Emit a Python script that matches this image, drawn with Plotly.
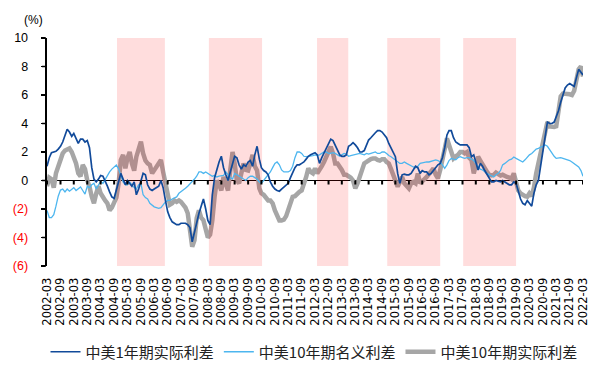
import pandas as pd
import plotly.graph_objects as go

# ---------------- data ----------------
START_MONTH = "2002-03-01"

# 中美1年期实际利差 (monthly, from 2002-03)
REAL_1Y = [
    1.0, 1.6, 1.95, 2.0, 2.05, 2.2, 2.4, 2.7, 3.2, 3.6, 3.4, 3.1,
    3.3, 3.0, 2.6, 2.9, 2.9, 2.7, 2.8, 2.3, 0.9, 0.1, -0.1, 0.1,
    0.35, 0.3, 0.0, -0.4, -0.8, -1.15, -1.25, -0.7, -0.2, 0.5, 0.1, -0.3,
    0.0, -0.2, -0.4, -0.1, -1.0, -0.6, 0.0, 0.5, 0.4, -0.3, -0.6, -0.7,
    -0.6, -0.5, -0.4, 0.0, -0.5, -1.4, -2.2, -2.6, -2.9, -3.0, -3.1, -3.1,
    -3.0, -3.0, -3.0, -3.1, -3.3, -4.3, -3.6, -3.0, -2.3, -1.8, -1.3, -2.0,
    -2.8, -3.1, -1.0, 0.2, 0.8, 1.3, 1.7, 0.9, 0.4, 0.0, 0.6, 1.2,
    1.7, 1.6, 1.1, 0.8, 1.1, 1.0, 1.3, 1.4, 1.0, 1.8, 2.4, 1.5,
    0.9, 0.7, 0.6, 0.4, -0.1, -0.4, -0.6, -0.7, -0.75, -0.6, -0.45, -0.35,
    -0.2, 0.2, 0.6, 0.9, 1.1, 1.1, 1.2, 1.3, 1.5, 1.7, 1.8, 1.9,
    1.95, 1.8, 1.2, 1.6, 1.9, 2.3, 2.6, 2.9, 2.8, 2.5, 2.2, 1.8,
    1.7, 1.7, 1.8, 2.4, 2.5, 2.65, 2.5, 2.3, 2.0, 2.0, 2.1, 2.5,
    2.84, 3.0, 3.2, 3.35, 3.5, 3.5, 3.4, 3.2, 3.0, 2.6, 2.3, 1.9,
    1.67, 0.5, -0.2, 0.4, 0.45, 0.4, 0.4, 0.5, 0.74, 1.0, 0.9, 0.5,
    0.7, 0.6, 0.6, 0.4, 0.5, 0.7, 0.9, 1.1, 1.2, 1.6, 2.3, 3.2,
    3.5, 3.5, 3.0, 2.7, 2.6, 2.5, 2.5, 2.5, 2.5, 2.3, 1.67, 1.8,
    1.2, 0.74, 1.2, 1.0, 0.7, 0.4, 0.1, -0.1, -0.1, 0.0, -0.05, -0.1,
    0.0, -0.1, -0.2, -0.3, -0.3, -0.1, -0.2, -0.7, -1.3, -1.6, -1.7, -1.4,
    -1.6, -1.8, -0.9, -0.3, 0.0, 1.0, 1.8, 2.8, 4.1, 4.0, 4.0, 4.1,
    4.45, 4.9, 5.5, 6.1, 6.5, 6.7, 6.8, 6.7, 6.6, 7.2, 7.8, 7.6,
    7.4,
]

# 中美10年期名义利差
NOMINAL_10Y = [
    -2.1, -2.6, -2.6, -2.4, -1.8, -1.1, -0.67, -0.6, -0.8, -0.6, -0.75, -0.6,
    -0.5, -0.7, -0.6, -0.45, -0.7, -0.95, -0.4, -0.5, -0.3, -0.2, -0.6, -0.3,
    -0.05, -0.2, 0.1, 0.3, 0.6, 0.8, 0.97, 1.09, 0.8, 0.3, -0.1, -0.3,
    -0.3, -0.1, -0.3, -0.5, -0.6, -0.3, -0.2, -1.0, -1.2, -1.3, -1.6, -1.75,
    -1.85, -1.9, -1.95, -1.9, -1.7, -1.5, -1.4, -1.4, -1.3, -1.2, -1.15, -0.9,
    -0.8, -0.7, -0.55, -0.4, -0.25, -0.1, 0.1, 0.3, 0.6, 0.6, 0.5, 0.6,
    0.5, 0.4, 0.3, 0.35, 0.25, 0.3, 0.3, 0.35, 0.6, 0.4, 0.2, 0.1,
    0.5, 0.4, 0.3, 0.2, 0.1, 0.0, 0.2, 0.3, 0.3, 0.2, 0.1, -0.1,
    -0.2, 0.0, 0.2, 0.4, 0.6, 0.9, 1.2, 1.3, 1.1, 0.74, 0.6, 0.6,
    0.6, 0.7, 1.0, 1.6, 2.0, 2.0, 1.9, 1.7, 1.67, 1.7, 1.7, 1.75,
    1.8, 1.77, 1.8, 1.9, 2.0, 2.0, 1.9, 1.9, 1.95, 1.9, 1.8, 1.7,
    1.8, 1.9, 1.85, 1.7, 1.75, 1.8, 1.85, 1.9, 1.9, 1.85, 1.8, 1.9,
    1.85, 1.9, 1.95, 2.0, 1.9, 1.9, 2.0, 2.0, 1.9, 1.75, 1.67, 1.55,
    1.45, 1.3, 1.2, 1.2, 1.3, 1.2, 1.1, 1.0, 0.95, 0.9, 1.0, 1.2,
    1.25, 1.3, 1.3, 1.3, 1.35, 1.4, 1.45, 1.4, 1.3, 1.1, 0.86, 1.1,
    1.4, 1.55, 1.5, 1.45, 1.6, 1.67, 1.6, 1.55, 1.6, 1.6, 1.5, 1.4,
    1.2, 0.95, 0.8, 0.74, 0.6, 0.5, 0.4, 0.3, 0.25, 0.4, 0.5, 0.7,
    1.1, 1.2, 1.35, 1.45, 1.5, 1.65, 1.55, 1.45, 1.35, 1.3, 1.45, 1.65,
    1.8, 1.9, 2.05, 2.2, 2.25, 2.35, 2.4, 2.5, 2.4, 2.15, 1.9, 1.7,
    1.55, 1.6, 1.6, 1.55, 1.5, 1.5, 1.4, 1.3, 1.2, 1.1, 0.95, 0.7,
    0.3,
]

# 中美10年期实际利差
REAL_10Y = [
    -0.4, 0.2, 0.1, -0.5, 0.5, 1.0, 1.44, 1.9, 2.1, 2.14, 2.25, 2.0,
    1.67, 1.2, 0.5, 0.3, 1.1, 0.8, 0.0, -0.43, -1.14, -1.6, -0.9, -0.4,
    -0.9, -1.25, -1.4, -1.6, -2.1, -1.9, -1.6, -1.2, -0.2, 1.44, 1.8, 0.85,
    1.55, 2.0, 1.2, 0.7, 1.67, 2.2, 2.72, 1.9, 1.4, 1.2, 1.1, 0.5,
    0.7, 0.9, 1.2, 1.44, 0.6, -0.2, -1.14, -1.7, -1.6, -1.4, -1.5, -1.4,
    -1.5, -1.75, -1.9, -2.3, -3.7, -4.65, -4.2, -2.65, -2.1, -2.6, -2.8, -3.47,
    -4.0, -3.8, -2.8, -1.14, 0.0, -0.3, -0.7, 0.25, -0.2, -0.7, 0.74, 2.0,
    1.2, 0.0, -0.2, 0.6, 1.2, 0.74, 0.7, 1.2, 1.8, 1.0, 0.7, -0.55,
    -0.9, -1.0, -1.2, -1.4, -1.4, -1.6, -2.1, -2.5, -2.8, -2.8, -2.75, -2.5,
    -2.1, -1.6, -1.15, -1.1, -0.9, -0.8, -0.7, -0.3, 0.25, 0.85, 0.6, 0.5,
    0.85, 0.5, 0.7, 1.0, 1.3, 1.67, 2.1, 2.37, 1.9, 1.2, 1.2, 1.0,
    0.74, 0.4, 0.4, 0.3, 0.2, 0.0, -0.55, -0.2, 0.3, 0.85, 1.2, 1.3,
    1.44, 1.5, 1.55, 1.55, 1.45, 1.4, 1.5, 1.5, 1.3, 1.2, 0.8, 0.4,
    0.0, -0.43, -0.1, 0.25, -0.2, -0.4, -0.55, -0.2, -0.1, -0.2, 0.5, -0.2,
    0.0, 0.1, 0.25, 0.5, 0.7, 0.85, 0.4, 0.15, 0.74, 1.5, 2.37, 2.96,
    2.5, 2.0, 1.55, 1.7, 1.8, 2.0, 2.0, 1.9, 2.0, 1.6, 1.44, 0.5,
    1.2, 1.67, 1.4, 1.1, 0.85, 0.6, 0.4, 0.35, 0.4, 0.55, 0.45, 0.35,
    0.4, 0.3, 0.25, 0.2, 0.1, 0.5, -0.1, -0.7, -0.9, -1.05, -1.1, -1.14,
    -0.9, -1.1, -0.5, 0.5, 1.2, 1.9, 2.9, 3.5, 4.1, 3.8, 3.75, 3.75,
    3.8, 4.7, 5.9, 6.1, 6.1, 6.05, 6.05, 6.0, 6.3, 7.05, 7.8, 8.0,
    7.3,
]

SERIES_NAMES = ["中美1年期实际利差", "中美10年期名义利差", "中美10年期实际利差"]

# shaded periods (start, end)
SHADE_PERIODS = [
    ("2004-10-10", "2006-07-25"),
    ("2008-03-15", "2010-03-10"),
    ("2012-03-28", "2013-05-28"),
    ("2014-11-10", "2016-11-01"),
    ("2017-09-10", "2019-09-01"),
]

TICK_LABELS = [
    "2002-03", "2002-09", "2003-03", "2003-09", "2004-03", "2004-09",
    "2005-03", "2005-09", "2006-03", "2006-09", "2007-03", "2007-09",
    "2008-03", "2008-09", "2009-03", "2009-09", "2010-03", "2010-09",
    "2011-03", "2011-09", "2012-03", "2012-09", "2013-03", "2013-09",
    "2014-03", "2014-09", "2015-03", "2015-09", "2016-03", "2016-09",
    "2017-03", "2017-09", "2018-03", "2018-09", "2019-03", "2019-09",
    "2020-03", "2020-09", "2021-03", "2021-09", "2022-03",
]

Y_TICKS = [-6, -4, -2, 0, 2, 4, 6, 8, 10]
Y_MIN, Y_MAX = -6, 10

# ---------------- figure ----------------
dates = pd.date_range(START_MONTH, periods=len(REAL_1Y), freq="MS")
tick_dates = [pd.Timestamp(t + "-01") for t in TICK_LABELS]
x_range = [tick_dates[0], tick_dates[-1]]

COL_DARK = "#114a9a"
COL_LIGHT = "#4db6ef"
COL_GRAY = "#a6a6a6"
RED = "#ff0000"
PAD = "\u00a0\u00a0\u00a0"
PLOT_W_PX, PLOT_H_PX = 536, 228
TICK_PX = 4
TICK_LEN_Y = TICK_PX * (Y_MAX - Y_MIN) / PLOT_H_PX   # tick length in y units

fig = go.Figure()

# gray thick line drawn first
fig.add_trace(go.Scatter(
    x=dates, y=REAL_10Y, name=SERIES_NAMES[2], mode="lines",
    line=dict(color=COL_GRAY, width=4.5), legendrank=3,
    hoverinfo="skip",
))

# shading (semi-transparent red) above gray line, below the blue lines
sx, sy = [], []
for s, e in SHADE_PERIODS:
    sx += [s, s, e, e, s, None]
    sy += [Y_MIN, Y_MAX, Y_MAX, Y_MIN, Y_MIN, None]
fig.add_trace(go.Scatter(
    x=sx, y=sy, mode="lines", fill="toself", fillcolor="rgba(255,0,0,0.135)",
    line=dict(width=0), showlegend=False, hoverinfo="skip",
))

fig.add_trace(go.Scatter(
    x=dates, y=NOMINAL_10Y, name=SERIES_NAMES[1], mode="lines",
    line=dict(color=COL_LIGHT, width=1.3), legendrank=2,
    hoverinfo="skip",
))
fig.add_trace(go.Scatter(
    x=dates, y=REAL_1Y, name=SERIES_NAMES[0], mode="lines",
    line=dict(color=COL_DARK, width=1.7), legendrank=1,
    hoverinfo="skip",
))

ytext = []
for v in Y_TICKS:
    if v < 0:
        ytext.append(f'<span style="color:{RED}">({abs(v)})</span>{PAD}')
    else:
        ytext.append(f"{v}{PAD}")

# axis decorations: y-axis line + ticks, and ticks hanging under the zero line
X_LINE = -1.0 / PLOT_W_PX
shapes = [dict(
    type="line", xref="paper", yref="paper", x0=X_LINE, x1=X_LINE, y0=0, y1=1,
    line=dict(color="black", width=2), layer="above",
)]
for v in Y_TICKS:
    yp = (v - Y_MIN) / (Y_MAX - Y_MIN)
    shapes.append(dict(
        type="line", xref="paper", yref="paper", x0=-(TICK_PX + 1) / PLOT_W_PX, x1=X_LINE,
        y0=yp, y1=yp, line=dict(color="black", width=1.5), layer="above",
    ))
for d in tick_dates:
    shapes.append(dict(
        type="line", xref="x", yref="y", x0=d, x1=d, y0=0, y1=-TICK_LEN_Y,
        line=dict(color="black", width=2), layer="above",
    ))

fig.update_layout(
    width=609, height=370,
    margin=dict(l=47, r=26, t=38, b=104),
    paper_bgcolor="white", plot_bgcolor="white",
    font=dict(family="Liberation Sans, Arial, sans-serif", color="black"),
    showlegend=True,
    legend=dict(
        orientation="h", x=(314 - 47) / 536, xanchor="center",
        yref="container", y=1 - 352 / 370, yanchor="middle",
        font=dict(family="Noto Sans CJK SC", size=15, color="#222222"),
        traceorder="normal", itemwidth=30,
    ),
    xaxis=dict(
        type="date", range=x_range, automargin=False,
        tickmode="array", tickvals=tick_dates, ticktext=TICK_LABELS,
        tickangle=-90, ticks="outside", ticklen=6, tickcolor="rgba(0,0,0,0)",
        tickfont=dict(family="DejaVu Sans", size=11.5, color="black"),
        showline=False, showgrid=False, zeroline=False,
    ),
    yaxis=dict(
        range=[Y_MIN, Y_MAX], automargin=False,
        tickmode="array", tickvals=Y_TICKS, ticktext=ytext,
        ticks="outside", ticklen=4, tickwidth=1.5, tickcolor="black",
        showline=True, linecolor="black", linewidth=2,
        showgrid=False, zeroline=True, zerolinecolor="black", zerolinewidth=1.5,
        tickfont=dict(family="Liberation Sans, Arial, sans-serif", size=12.5, color="black"),
    ),
    shapes=shapes,
    annotations=[dict(
        text="(%)", xref="paper", yref="paper",
        x=(33 - 47) / 536, y=(266 - 20) / 228, xanchor="center", yanchor="middle",
        showarrow=False, font=dict(family="Liberation Sans, Arial, sans-serif", size=12, color="black"),
    )],
)

fig.write_html(
    "out.html",
    config={"displayModeBar": False, "staticPlot": True},
    post_script="document.body.style.margin='0';document.body.style.padding='0';",
)
